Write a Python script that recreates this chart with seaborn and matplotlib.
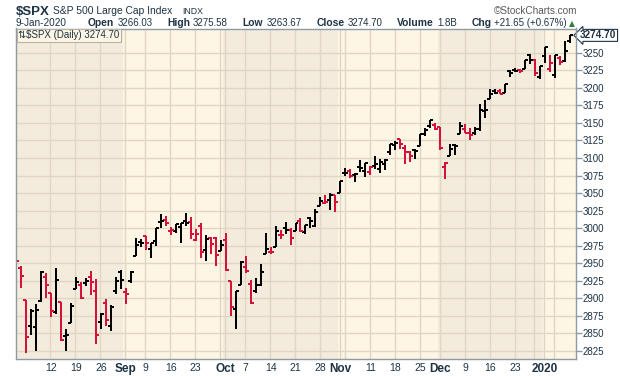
import numpy as np
import pandas as pd
import matplotlib
matplotlib.use('Agg')
import matplotlib.pyplot as plt
import seaborn as sns

# trading days shown (Aug 1 2019 is clipped at the left edge)
holidays = ['2019-09-02', '2019-11-28', '2019-12-25', '2020-01-01']
dates = pd.bdate_range('2019-08-01', '2020-01-09', freq='C', holidays=holidays)

opens = [2980.32, 2943.90, 2898.07, 2861.18, 2858.65, 2896.21, 2930.51, 2907.07, 2880.72, 2894.15, 2846.20,
         2864.74, 2913.48, 2919.01, 2922.04, 2930.94, 2911.07, 2866.70, 2893.14, 2861.28, 2910.37, 2937.09,
         2909.01, 2924.67, 2960.60, 2980.33, 2988.43, 2971.01, 2981.41, 3009.08, 3012.21, 2996.41, 2995.67,
         3001.50, 3010.36, 3008.42, 2983.50, 3002.43, 2968.35, 2985.73, 2985.47, 2967.07,
         2983.69, 2924.78, 2885.38, 2918.56, 2944.23, 2920.40, 2911.10, 2918.55, 2963.07, 2965.81, 2973.61,
         2989.68, 3000.77, 2996.84, 2996.48, 3010.73, 2994.01, 3014.78, 3003.32, 3032.12, 3035.39, 3039.74,
         3046.90,
         3050.72, 3078.96, 3080.80, 3075.10, 3087.02, 3081.25, 3080.33, 3089.28, 3084.18, 3090.75, 3107.92,
         3117.91, 3127.45, 3114.66, 3108.49, 3111.41, 3117.44, 3134.85, 3145.49, 3147.18,
         3143.85, 3087.41, 3103.50, 3119.21, 3134.62, 3141.86, 3135.36, 3135.75, 3141.23, 3166.65, 3183.63,
         3195.40, 3195.21, 3192.32, 3223.33, 3226.05, 3225.45, 3227.20, 3247.23, 3240.09, 3215.18,
         3244.67, 3226.36, 3217.55, 3241.86, 3238.59, 3266.03]
highs = [3013.59, 2945.50, 2898.07, 2884.40, 2892.17, 2938.72, 2935.75, 2907.58, 2943.31, 2894.15, 2856.67,
         2893.63, 2931.00, 2923.63, 2928.73, 2939.08, 2927.01, 2879.27, 2898.79, 2890.03, 2930.50, 2940.43,
         2914.39, 2938.84, 2985.86, 2985.03, 2989.43, 2979.39, 3000.93, 3020.74, 3017.33, 3002.19, 3006.21,
         3007.83, 3021.19, 3016.37, 2999.15, 3007.98, 2989.82, 2987.28, 2987.31, 2983.85,
         2992.53, 2924.78, 2911.13, 2953.74, 2959.75, 2925.47, 2929.32, 2948.46, 2993.28, 2972.84, 3003.28,
         2997.54, 3008.29, 3000.00, 3007.33, 3014.57, 3004.78, 3016.07, 3027.39, 3044.08, 3047.87, 3050.10,
         3046.90,
         3066.95, 3085.20, 3083.95, 3078.34, 3097.77, 3093.09, 3088.33, 3102.61, 3098.06, 3098.20, 3120.46,
         3124.17, 3127.64, 3118.97, 3110.11, 3112.87, 3133.83, 3142.69, 3154.26, 3150.30,
         3144.31, 3094.97, 3119.38, 3119.45, 3150.60, 3148.87, 3142.12, 3143.98, 3176.28, 3182.68, 3197.71,
         3198.22, 3198.48, 3205.48, 3225.65, 3227.78, 3226.43, 3240.08, 3247.93, 3240.92, 3231.72,
         3258.14, 3246.15, 3246.84, 3244.91, 3267.07, 3275.58]
lows = [2945.23, 2914.11, 2822.12, 2847.42, 2825.71, 2894.47, 2900.15, 2873.14, 2877.05, 2839.64, 2825.51,
        2864.74, 2913.48, 2899.60, 2917.91, 2904.51, 2834.97, 2856.00, 2860.59, 2853.05, 2905.67, 2913.32,
        2891.85, 2921.86, 2960.60, 2972.51, 2969.39, 2957.01, 2975.31, 3000.92, 3002.90, 2990.67, 2993.73,
        2978.57, 3003.16, 2984.68, 2982.23, 2957.73, 2952.86, 2963.71, 2945.53, 2967.07,
        2938.70, 2874.93, 2855.94, 2918.56, 2935.68, 2892.66, 2907.41, 2917.12, 2963.07, 2962.94, 2973.61,
        2985.20, 2991.79, 2976.31, 2995.35, 2995.04, 2991.21, 3000.42, 3001.94, 3032.12, 3034.81, 3025.96,
        3023.19,
        3050.72, 3074.87, 3072.15, 3065.89, 3080.23, 3073.58, 3075.82, 3084.73, 3078.80, 3083.26, 3104.60,
        3112.06, 3113.47, 3091.41, 3094.55, 3099.26, 3117.44, 3131.00, 3143.41, 3139.34,
        3110.78, 3070.33, 3102.53, 3103.76, 3134.62, 3135.46, 3126.09, 3133.21, 3138.47, 3156.51, 3183.63,
        3191.03, 3191.14, 3192.32, 3216.03, 3222.30, 3220.51, 3227.20, 3234.37, 3216.57, 3212.03,
        3235.53, 3222.34, 3214.64, 3232.43, 3236.67, 3263.67]
closes = [2953.56, 2932.05, 2844.74, 2881.77, 2883.98, 2938.09, 2918.65, 2882.70, 2926.32, 2840.60, 2847.60,
          2888.68, 2923.65, 2900.51, 2924.43, 2922.95, 2847.11, 2878.38, 2869.16, 2887.94, 2924.58, 2926.46,
          2906.27, 2937.78, 2976.00, 2978.71, 2978.43, 2979.39, 3000.93, 3009.57, 3007.39, 2997.96, 3005.70,
          3006.73, 3006.79, 2992.07, 2991.78, 2966.60, 2984.87, 2977.62, 2961.79, 2976.74,
          2940.25, 2887.61, 2910.63, 2952.01, 2938.79, 2893.06, 2919.40, 2938.13, 2970.27, 2966.15, 2995.68,
          2989.69, 2997.95, 2986.20, 3006.72, 2995.99, 3004.52, 3010.29, 3022.55, 3039.42, 3036.89, 3046.77,
          3037.56,
          3066.91, 3078.27, 3074.62, 3076.78, 3085.18, 3093.08, 3087.01, 3091.84, 3094.04, 3096.63, 3120.46,
          3122.03, 3120.18, 3108.46, 3103.54, 3110.29, 3133.64, 3140.52, 3153.63, 3140.98,
          3113.87, 3093.20, 3112.76, 3117.43, 3145.91, 3135.96, 3132.52, 3141.63, 3168.57, 3168.80, 3191.45,
          3192.52, 3191.14, 3205.37, 3221.22, 3224.01, 3223.38, 3239.91, 3240.02, 3221.29, 3230.78,
          3257.85, 3234.85, 3246.28, 3237.18, 3253.05, 3274.70]

tick_dates = ['2019-08-12', '2019-08-19', '2019-08-26', '2019-09-03', '2019-09-09', '2019-09-16', '2019-09-23',
              '2019-10-01', '2019-10-07', '2019-10-14', '2019-10-21', '2019-10-28', '2019-11-01', '2019-11-11',
              '2019-11-18', '2019-11-25', '2019-12-02', '2019-12-09', '2019-12-16', '2019-12-23', '2020-01-02']
tick_labels = ['12', '19', '26', 'Sep', '9', '16', '23', 'Oct', '7', '14', '21', '28', 'Nov', '11', '18', '25',
               'Dec', '9', '16', '23', '2020']
bold_labels = ['Sep', 'Oct', 'Nov', 'Dec', '2020']

y_ticks = list(range(2825, 3251, 25))

last_close = '3274.70'
# header quote line: label / value pairs
quote = [('Open', '3266.03'), ('High', '3275.58'), ('Low', '3263.67'), ('Close', '3274.70'),
         ('Volume', '1.8B'), ('Chg', '+21.65 (+0.67%)')]

# --------------------------------------------------------------
sns.set_style('white')
plt.rcParams['font.family'] = ['Liberation Sans', 'DejaVu Sans']

df = pd.DataFrame({'date': dates, 'open': opens, 'high': highs, 'low': lows, 'close': closes})
df['x'] = np.arange(len(df)) - 1          # Aug 2 sits at x=0
prev = df['close'].shift(1).fillna(df['open'])
RED, BLACK = '#d4123a', '#000000'
df['color'] = np.where(df['close'] < prev, RED, BLACK)

pos = dict(zip(df['date'], df['x']))

W, H = 620, 376
TOP, BOT = 28.5, 359.3
fig = plt.figure(figsize=(W / 100, H / 100), dpi=100)
fig.patch.set_facecolor('white')
ax = fig.add_axes([16 / W, (H - BOT) / H, 560 / W, (BOT - TOP) / H])

LIGHT, DARK, GRID, NAVY = '#fdf6e4', '#f3ecdc', '#e0d7c3', '#1d3344'
ax.set_facecolor(LIGHT)
x0, x1 = -0.7, df['x'].iloc[-1] + 1.2
ax.set_xlim(x0, x1)
ax.set_ylim(2813.2, 3284.5)

# month shading (Aug, Oct, Dec darker)
month = df['date'].dt.month
first_of_month = df.loc[month != month.shift(1), 'x'].tolist()[1:]
edges = [x0] + [v - 0.5 for v in first_of_month] + [x1]
for k in range(len(edges) - 1):
    if k % 2 == 0:
        ax.axvspan(edges[k], edges[k + 1], color=DARK, lw=0, zorder=0)

# grid: every 25 points and first trading day of each week / month
for yv in y_ticks:
    ax.axhline(yv, color=GRID, lw=1, zorder=1)
wk = df['date'].dt.isocalendar().week
grid_x = set(df.loc[wk != wk.shift(1), 'x'].tolist()[1:]) | set(first_of_month)
for gx in sorted(grid_x):
    ax.axvline(gx - 0.12, color=GRID, lw=1, zorder=1)

# OHLC bars (2 px wide lines, snapped to the pixel grid)
kw = dict(colors=df['color'], lw=1.44, zorder=3, antialiased=True, snap=True, capstyle='butt')
ax.vlines(df['x'], df['low'], df['high'], **kw)
ax.hlines(df['open'], df['x'] - 0.6, df['x'], **kw)
ax.hlines(df['close'], df['x'], df['x'] + 0.6, **kw)

# axes look
for s in ['left', 'bottom', 'right', 'top']:
    ax.spines[s].set_color('#8d9ba6')
    ax.spines[s].set_linewidth(1)
    ax.spines[s].set_zorder(4)

ax.yaxis.tick_right()
ax.set_yticks(y_ticks)
ax.set_yticklabels([str(v) for v in y_ticks])
ax.tick_params(axis='y', which='major', length=4, width=1, color='#8d9ba6', pad=1,
               labelsize=7, labelcolor=NAVY, left=False, right=True)

ax.set_xticks([pos[pd.Timestamp(d)] for d in tick_dates])
ax.set_xticklabels(tick_labels)
ax.set_xticks(df['x'].tolist(), minor=True)
ax.tick_params(axis='x', which='major', length=0, pad=3, labelsize=7.5, labelcolor=NAVY)
ax.tick_params(axis='x', which='minor', length=2, width=0.6, color='#a0a8ae')
for t in ax.get_xticklabels():
    if t.get_text() in bold_labels:
        t.set_fontweight('bold')
        t.set_fontsize(8.5)

# legend box in the corner
ax.text(0.004, 0.995, '\u21c5$SPX (Daily) ' + last_close, transform=ax.transAxes, ha='left', va='top',
        fontsize=7, color=NAVY, zorder=5,
        bbox=dict(boxstyle='square,pad=0.15', fc=LIGHT, ec='#b9b3a5', lw=0.8))

# last value tag on the right axis
ax.annotate(last_close, xy=(1.0, closes[-1]), xycoords=('axes fraction', 'data'),
            xytext=(3, 0), textcoords='offset points', ha='left', va='center',
            fontsize=7.2, fontweight='bold', color=NAVY, annotation_clip=False,
            bbox=dict(boxstyle='larrow,pad=0.1', fc='white', ec=NAVY, lw=0.8))

# header
def fy(py):
    return 1 - py / H

fig.text(16 / W, fy(15), '$SPX', fontsize=9.5, fontweight='bold', color=NAVY)
fig.text(53 / W, fy(14.5), 'S&P 500 Large Cap Index', fontsize=7.4, color=NAVY)
fig.text(182 / W, fy(14.5), 'INDX', fontsize=6.3, color=NAVY)
fig.text(577 / W, fy(14.5), '\u00a9StockCharts.com', fontsize=7.2, color='#5a5a5a', ha='right')
fig.text(16 / W, fy(26.5), '9-Jan-2020', fontsize=7.2, color=NAVY)

# quote line: lay pieces out left to right between x=88 and x=567
renderer = fig.canvas.get_renderer()
pieces = []
for lab, val in quote:
    pieces.append(fig.text(0, fy(26.5), lab, fontsize=7.4, fontweight='bold', color=NAVY))
    pieces.append(fig.text(0, fy(26.5), val, fontsize=7.0, color=NAVY))
widths = [p.get_window_extent(renderer).width for p in pieces]
small_gap = 3
n_big = len(quote) - 1
big_gap = (567 - 88 - sum(widths) - small_gap * len(quote)) / n_big
cx = 88
for k, p in enumerate(pieces):
    p.set_x(cx / W)
    cx += widths[k] + (small_gap if k % 2 == 0 else big_gap)
fig.text(569 / W, fy(26.5), '\u25b2', fontsize=5.5, color='#2e7d32', family=['DejaVu Sans'])

fig.savefig('out.png', dpi=100, facecolor='white')
